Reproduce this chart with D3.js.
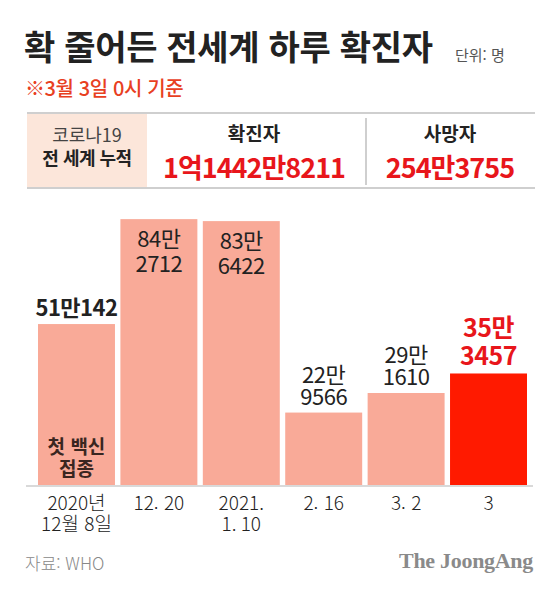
<!DOCTYPE html>
<html lang="ko">
<head>
<meta charset="utf-8">
<script src="https://cdn.jsdelivr.net/npm/d3@7"></script>
<style>
  body { margin: 0; background: #fff; }
  svg { display: block; font-family: 'Noto Sans CJK KR', 'Noto Sans', sans-serif; }
</style>
</head>
<body>
<div id="svg-container"></div>
<script>
const categories = ['d1208', 'd1220', 'd0110', 'd0216', 'd0302', 'd0303'];
const tickLabels = [['2020년', '12월 8일'], ['12. 20'], ['2021.', '1. 10'], ['2. 16'], ['3. 2'], ['3']];
const cases = [510142, 842712, 836422, 229566, 291610, 353457];
const valueLabels = [['51만142'], ['84만', '2712'], ['83만', '6422'], ['22만', '9566'], ['29만', '1610'], ['35만', '3457']];
const totalHeaders = ['확진자', '사망자'];
const totalValues = ['1억1442만8211', '254만3755'];

const WIDTH = 560;
const HEIGHT = 589;
const BASE_Y = 485;
const SALMON = '#F9AA98';
const RED = '#FF1A00';
const TEXT_RED = '#E8161B';

const svg = d3.create('svg').attr('width', WIDTH).attr('height', HEIGHT);

// title block
svg.append('text')
  .attr('x', 24).attr('y', 60)
  .attr('font-size', 34).attr('font-weight', 700)
  .attr('letter-spacing', -0.3)
  .attr('fill', '#222')
  .text('확 줄어든 전세계 하루 확진자');
svg.append('text')
  .attr('x', 455).attr('y', 61)
  .attr('font-size', 15).attr('fill', '#555')
  .text('단위: 명');
svg.append('text')
  .attr('x', 25).attr('y', 96)
  .attr('font-size', 20).attr('font-weight', 500)
  .attr('letter-spacing', -0.4)
  .attr('fill', '#E8401F')
  .text('※3월 3일 0시 기준');

// totals table
svg.append('rect')
  .attr('x', 27).attr('y', 114).attr('width', 120).attr('height', 73)
  .attr('fill', '#FCE6DA');
[113, 188].forEach((y) => {
  svg.append('line')
    .attr('x1', 27).attr('x2', 535).attr('y1', y).attr('y2', y)
    .attr('stroke', '#cfcfcf').attr('stroke-width', 2);
});
svg.append('line')
  .attr('x1', 366).attr('x2', 366).attr('y1', 118).attr('y2', 185)
  .attr('stroke', '#cfcfcf').attr('stroke-width', 2);
svg.append('text')
  .attr('x', 87).attr('y', 142).attr('text-anchor', 'middle')
  .attr('font-size', 18).attr('fill', '#444')
  .text('코로나19');
svg.append('text')
  .attr('x', 87).attr('y', 165).attr('text-anchor', 'middle')
  .attr('font-size', 18).attr('font-weight', 700).attr('fill', '#222')
  .attr('letter-spacing', -0.5)
  .text('전 세계 누적');

const colCenters = [254, 450];
totalHeaders.forEach((h, i) => {
  svg.append('text')
    .attr('x', colCenters[i]).attr('y', 141).attr('text-anchor', 'middle')
    .attr('font-size', 19).attr('font-weight', 700).attr('fill', '#222')
    .text(h);
  svg.append('text')
    .attr('x', colCenters[i]).attr('y', 178).attr('text-anchor', 'middle')
    .attr('font-size', 27).attr('font-weight', 700).attr('fill', TEXT_RED)
    .attr('letter-spacing', -1)
    .text(totalValues[i]);
});

// bars
const xScale = d3.scaleBand()
  .domain(categories)
  .range([38, 527])
  .paddingInner(0.066)
  .paddingOuter(0);
const yScale = d3.scaleLinear()
  .domain([0, 1000000])
  .range([BASE_Y, BASE_Y - 315.5]);

const data = categories.map((c, i) => ({ key: c, value: cases[i], label: valueLabels[i], tick: tickLabels[i] }));
const lastKey = categories[categories.length - 1];

svg.selectAll('rect.bar')
  .data(data)
  .join('rect')
  .attr('class', 'bar')
  .attr('x', (d) => xScale(d.key))
  .attr('y', (d) => yScale(d.value))
  .attr('width', xScale.bandwidth())
  .attr('height', (d) => BASE_Y - yScale(d.value))
  .attr('fill', (d) => (d.key === lastKey ? RED : SALMON));

// value labels: inside tall bars, above the rest
const labelGroup = svg.append('g').attr('text-anchor', 'middle');
data.forEach((d, i) => {
  const cx = xScale(d.key) + xScale.bandwidth() / 2;
  const top = yScale(d.value);
  const isLast = d.key === lastKey;
  const inside = d.value > 800000;
  const lineH = isLast ? 28 : 22;
  const t = labelGroup.append('text')
    .attr('font-size', isLast ? 25 : 22)
    .attr('font-weight', isLast || i === 0 ? 700 : 400)
    .attr('fill', isLast ? TEXT_RED : '#222')
    .attr('letter-spacing', -0.5);
  const firstBase = inside ? top + 28 : top - 8 - (d.label.length - 1) * lineH;
  d.label.forEach((line, j) => {
    t.append('tspan').attr('x', cx).attr('y', firstBase + j * (inside ? 25 : lineH)).text(line);
  });
});

// annotation in first bar
const first = data[0];
const annX = xScale(first.key) + xScale.bandwidth() / 2;
const ann = svg.append('text')
  .attr('text-anchor', 'middle')
  .attr('font-size', 19).attr('font-weight', 700).attr('fill', '#3a2620');
['첫 백신', '접종'].forEach((line, j) => {
  ann.append('tspan').attr('x', annX).attr('y', 454 + j * 22).text(line);
});

// x axis
svg.append('line')
  .attr('x1', 26).attr('x2', 533).attr('y1', BASE_Y + 1).attr('y2', BASE_Y + 1)
  .attr('stroke', '#cccccc').attr('stroke-width', 1.5);

const axis = svg.append('g')
  .attr('transform', `translate(0, ${BASE_Y})`)
  .call(d3.axisBottom(xScale).tickSize(0).tickFormat(() => ''));
axis.select('.domain').remove();
axis.selectAll('.tick text').remove();
axis.selectAll('.tick')
  .append('text')
  .attr('fill', '#222')
  .attr('font-size', 19)
  .attr('font-weight', 300)
  .attr('text-anchor', 'middle')
  .attr('font-family', "'Noto Sans CJK KR', sans-serif")
  .each(function (key) {
    const lines = tickLabels[categories.indexOf(key)];
    lines.forEach((line, j) => {
      d3.select(this).append('tspan').attr('x', 0).attr('y', 25 + j * 21).text(line);
    });
  });

// footer
svg.append('text')
  .attr('x', 25).attr('y', 570)
  .attr('font-size', 17).attr('font-weight', 300).attr('fill', '#888')
  .text('자료: WHO');
svg.append('text')
  .attr('x', 533).attr('y', 568).attr('text-anchor', 'end')
  .attr('font-family', "'Liberation Serif', 'DejaVu Serif', serif")
  .attr('font-size', 22).attr('font-weight', 700).attr('fill', '#8a8a8a')
  .attr('letter-spacing', -0.3)
  .text('The JoongAng');

document.getElementById('svg-container').appendChild(svg.node());
</script>
</body>
</html>
